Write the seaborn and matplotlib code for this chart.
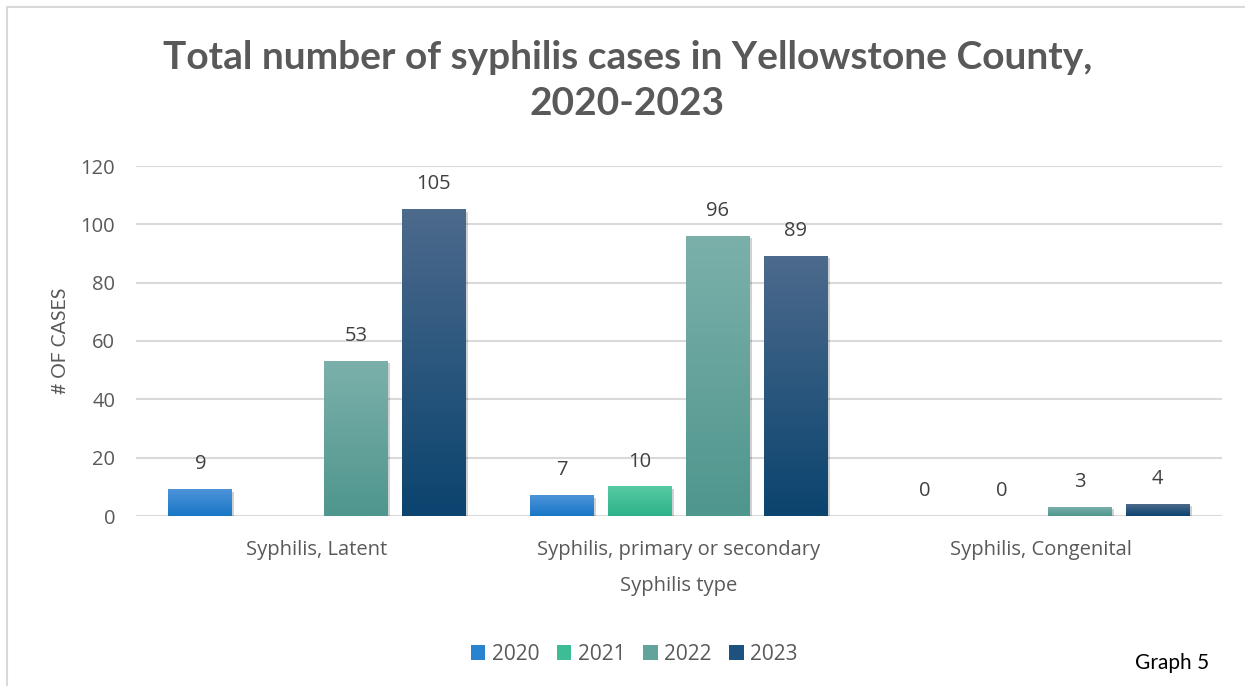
import numpy as np
import pandas as pd
import matplotlib
matplotlib.use("Agg")
import matplotlib.pyplot as plt
import matplotlib.colors as mcolors
from matplotlib.patches import Patch
from matplotlib import patheffects as pe
import seaborn as sns

# ---------------- data ----------------
categories = ["Syphilis, Latent", "Syphilis, primary or secondary", "Syphilis, Congenital"]
years = ["2020", "2021", "2022", "2023"]
cases_2020 = [9, 7, 0]
cases_2021 = [np.nan, 10, 0]
cases_2022 = [53, 96, 3]
cases_2023 = [105, 89, 4]
y_ticks = [0, 20, 40, 60, 80, 100, 120]

title = "Total number of syphilis cases in Yellowstone County,\n2020-2023"
x_label = "Syphilis type"
y_label = "# OF CASES"
footnote = "Graph 5"

# gradient colours (top, bottom) for each year
grad_top = ["#4d93d9", "#56c9a2", "#7bb0aa", "#4c6a8c"]
grad_bot = ["#1877c6", "#2db38a", "#4f968e", "#0b446f"]
mid_cols = ["#2a83cf", "#3dbd95", "#62a39c", "#1d5280"]

rows = []
for yr, vals in zip(years, [cases_2020, cases_2021, cases_2022, cases_2023]):
    for c, v in zip(categories, vals):
        rows.append({"type": c, "year": yr, "cases": v})
df = pd.DataFrame(rows)

# ---------------- figure ----------------
sns.set_theme(style="white")
plt.rcParams["font.family"] = ["Open Sans", "DejaVu Sans"]

fig = plt.figure(figsize=(12.45, 6.86), dpi=100)
ax = fig.add_axes([136 / 1245, 1 - 516 / 686, (1222 - 136) / 1245, 350 / 686])

sns.barplot(data=df, x="type", y="cases", hue="year", order=categories,
            hue_order=years, palette=mid_cols, width=0.86, gap=0.18,
            ax=ax, legend=False, saturation=1, zorder=2)

ax.set_ylim(0, 120)
ax.set_xlim(-0.5, 2.5)
ax.set_yticks(y_ticks)
ax.yaxis.grid(True, color="#d9d9d9", linewidth=1.5, zorder=0)
ax.set_axisbelow(True)
for s in ax.spines.values():
    s.set_visible(False)
ax.tick_params(axis="both", length=0, colors="#595959", labelsize=14.5)
ax.tick_params(axis="y", pad=15)
ax.tick_params(axis="x", pad=17)

# gradient fills + labels
data_by_year = [cases_2020, cases_2021, cases_2022, cases_2023]
for i, cont in enumerate(ax.containers):
    vals = data_by_year[i]
    cmap = mcolors.LinearSegmentedColormap.from_list(
        f"g{i}", [grad_bot[i], grad_top[i]])
    for bar in cont.patches:
        x0 = bar.get_x()
        w = bar.get_width()
        h = bar.get_height()
        idx = int(round(x0 + w / 2))
        v = vals[idx]
        if np.isnan(v):
            bar.set_visible(False)
            continue
        if h > 0:
            grad = np.linspace(1, 0, 64).reshape(-1, 1)
            ax.imshow(grad, cmap=cmap, vmin=0, vmax=1, aspect="auto",
                      extent=[x0, x0 + w, 0, h], origin="upper", zorder=3,
                      interpolation="bilinear")
            bar.set_facecolor("none")
            bar.set_edgecolor("none")
            bar.set_path_effects([pe.SimplePatchShadow(offset=(1.5, -1.5),
                                                       shadow_rgbFace="#000000",
                                                       alpha=0.18)])
        else:
            bar.set_visible(False)
        ax.annotate(f"{int(v)}", (x0 + w / 2, h), xytext=(0, 11),
                    textcoords="offset points", ha="center", va="bottom",
                    fontsize=14.5, color="#404040", zorder=5)

ax.set_xlim(-0.5, 2.5)
ax.set_ylim(0, 120)

ax.set_xlabel(x_label, fontsize=14.5, color="#595959", labelpad=12)
ax.set_ylabel(y_label, fontsize=14, color="#595959", labelpad=8,
              family=["Liberation Sans Narrow", "Lato", "DejaVu Sans"])

fig.suptitle(title, x=0.504, y=1 - 40 / 686, fontsize=28, fontweight="bold",
             color="#595959", family=["Lato", "DejaVu Sans"], linespacing=1.38,
             va="top")

handles = [Patch(facecolor=c, edgecolor="none", label=y) for c, y in zip(mid_cols, years)]
fig.legend(handles=handles, loc="center", bbox_to_anchor=(634 / 1245, 1 - 654 / 686),
           ncol=4, frameon=False, fontsize=15, handlelength=0.7,
           handleheight=0.7, handletextpad=0.3, columnspacing=0.85,
           labelcolor="#595959")

fig.text(1135 / 1245, 1 - 663 / 686, footnote, fontsize=15, color="#000000",
         ha="left", va="center", family=["Lato", "DejaVu Sans"])

# outer frame (left and top edges)
fig.add_artist(plt.Line2D([7 / 1245, 7 / 1245], [0, 1 - 7 / 686],
                          transform=fig.transFigure, color="#d9d9d9", lw=1.5))
fig.add_artist(plt.Line2D([7 / 1245, 1], [1 - 7 / 686, 1 - 7 / 686],
                          transform=fig.transFigure, color="#d9d9d9", lw=1.5))

fig.savefig("out.png", dpi=100, facecolor="white")
